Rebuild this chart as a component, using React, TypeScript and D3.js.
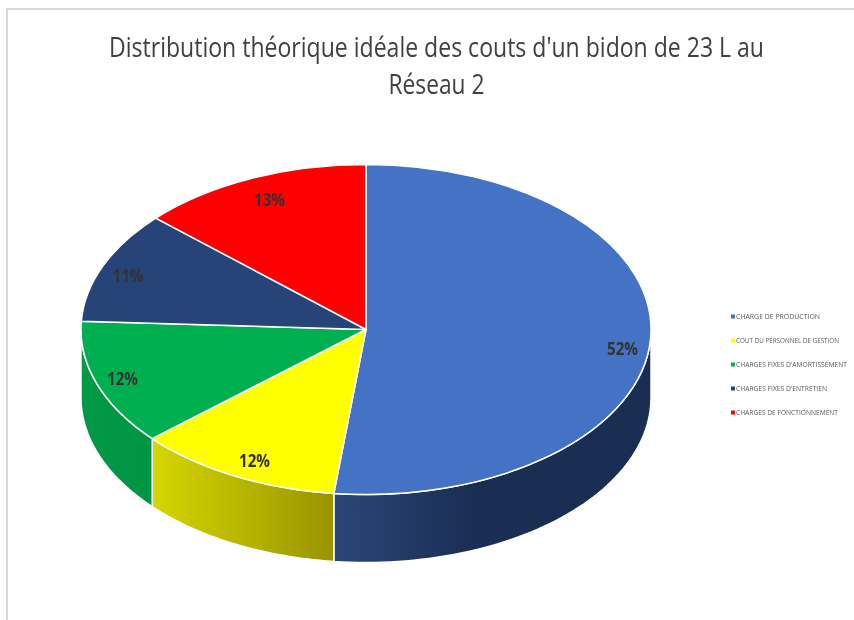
import React from "react";
import * as d3 from "d3";

const title = ["Distribution théorique idéale des couts d'un bidon de 23 L au", "Réseau 2"];
const categories = ["CHARGE DE PRODUCTION", "COUT DU PERSONNEL DE GESTION", "CHARGES FIXES D'AMORTISSEMENT", "CHARGES FIXES D'ENTRETIEN", "CHARGES DE FONCTIONNEMENT"];
const shares = [51.8, 11.7, 12.3, 11.0, 13.2];
const topColors = ["#4472C4", "#FFFF00", "#00B050", "#264478", "#FF0000"];
const sideFrom = ["#2B4677", "#D6D600", "#009A46", "#264478", "#FF0000"];
const sideTo = ["#1A2D52", "#999400", "#009442", "#264478", "#FF0000"];

const cx = 366, cy = 329.5, rx = 285, ry = 165, depth = 68;
const px = (a: number) => cx + rx * Math.sin(a);
const py = (a: number) => cy - ry * Math.cos(a);

const slices = d3.pie<number>().sort(null).value((d) => d)(shares);
const arc = d3.arc<d3.PieArcDatum<number>>().innerRadius(0).outerRadius(rx);

function wall(a0: number, a1: number) {
  const s = Math.max(a0, Math.PI / 2), e = Math.min(a1, (3 * Math.PI) / 2);
  if (e <= s) return null;
  const pts = d3.range(0, 61).map((i) => s + ((e - s) * i) / 60);
  const top = pts.map((a) => [px(a), py(a)] as [number, number]);
  const bottom = pts.slice().reverse().map((a) => [px(a), py(a) + depth] as [number, number]);
  return d3.line()([...top, ...bottom]) + "Z";
}

const labelPos = [[622.5, 348], [254.5, 460], [122.5, 378], [128, 275], [269.5, 199]];
const legendY = [316.5, 340.5, 364.5, 388.5, 412.5];
const legendWidths = [84, 103, 111, 91, 102];

export default function App() {
  return (
    <svg width={854} height={620} style={{ position: "absolute", left: 0, top: 0, background: "#fff" }}>
      <defs>
        <filter id="soft" filterUnits="userSpaceOnUse" x="0" y="0" width="854" height="620">
          <feGaussianBlur stdDeviation="0.35" />
        </filter>
        {slices.map((d, i) => {
          const xs = [px(d.startAngle), px(d.endAngle)];
          return (
            <linearGradient key={i} id={`g${i}`} gradientUnits="userSpaceOnUse"
              x1={i === 0 ? 334 : d3.min(xs)} x2={i === 0 ? 480 : d3.max(xs)} y1={0} y2={0}>
              <stop offset="0" stopColor={sideFrom[i]} />
              <stop offset="1" stopColor={sideTo[i]} />
            </linearGradient>
          );
        })}
      </defs>
      <path d="M7 620V9H854" fill="none" stroke="#d9d9d9" strokeWidth={2} />
      <g filter="url(#soft)">
        {title.map((t, i) => (
          <text key={i} transform={`translate(436.5,${57 + i * 37}) scale(1,1.1)`} textAnchor="middle" fontFamily="'Open Sans'" fontSize={25} fill="#404040"
            textLength={i === 0 ? 655 : 96} lengthAdjust="spacingAndGlyphs">{t}</text>
        ))}
      </g>
      {slices.map((d, i) => {
        const p = wall(d.startAngle, d.endAngle);
        return p ? <path key={i} d={p} fill={`url(#g${i})`} stroke="#fff" strokeWidth={1.5} /> : null;
      })}
      <g transform={`translate(${cx},${cy}) scale(1,${ry / rx})`}>
        {slices.map((d, i) => (
          <path key={i} d={arc(d) ?? ""} fill={topColors[i]} stroke="#fff" strokeWidth={1.5} vectorEffect="non-scaling-stroke" />
        ))}
      </g>
      <g filter="url(#soft)">
        {slices.map((d, i) => (
          <text key={i} x={labelPos[i][0]} y={labelPos[i][1]} textAnchor="middle" dominantBaseline="central"
            fontFamily="'Open Sans'" fontWeight={700} fontSize={17} fill="#333"
            textLength={31} lengthAdjust="spacingAndGlyphs">{`${Math.round(d.data)}%`}</text>
        ))}
        {categories.map((c, i) => (
          <g key={c}>
            <rect x={731} y={legendY[i] - 2} width={4} height={4} fill={topColors[i]} />
            <text x={736} y={legendY[i]} dominantBaseline="central" fontFamily="'Open Sans'" fontSize={6.5} fill="#595959"
              textLength={legendWidths[i]} lengthAdjust="spacingAndGlyphs">{c}</text>
          </g>
        ))}
      </g>
    </svg>
  );
}
